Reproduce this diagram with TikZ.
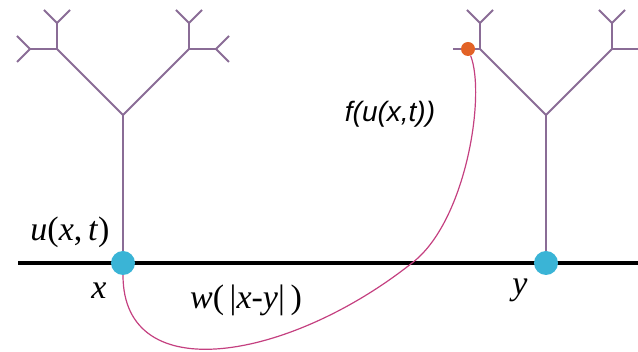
\documentclass[tikz,border=0pt]{standalone}
\usepackage{fontspec}
\setmainfont{Liberation Serif}
\newfontfamily\labelsans{Liberation Sans}
\definecolor{treecol}{RGB}{138,108,150}
\definecolor{kernelcol}{RGB}{196,64,128}
\definecolor{dotblue}{RGB}{58,180,214}
\definecolor{dotorange}{RGB}{226,98,38}
\newcommand{\vi}[1]{\textit{#1}}

\begin{document}
\begin{tikzpicture}[x=1pt, y=-1pt,
    branch/.style={draw=treecol, line width=1.8pt},
    kernel/.style={draw=kernelcol, line width=1.2pt},
    site/.style={circle, fill=dotblue, inner sep=0pt, minimum size=24pt},
    source/.style={circle, fill=dotorange, inner sep=0pt, minimum size=14pt},
    lbl/.style={inner sep=0pt, font=\fontsize{34}{40}\selectfont}]
    \useasboundingbox (0,0) rectangle (638,352);
    \clip (0,0) rectangle (638,352);
    % the two trees
    \foreach \fx in {123,546} {
        \draw[branch] (\fx,263) -- (\fx,115);
        \draw[branch] (\fx-66,49) -- (\fx,115) -- (\fx+66,49);
        \draw[branch] (\fx-66,49) -- ++(-27,0);
        \draw[branch] (\fx+66,49) -- ++(27,0) -- ++(13,-13);
        \draw[branch] (\fx+93,49) -- ++(13,13);
        \draw[branch] (\fx-66,49) -- ++(0,-26) -- ++(-13,-13);
        \draw[branch] (\fx-66,23) -- ++(13,-13);
        \draw[branch] (\fx+66,49) -- ++(0,-26) -- ++(-13,-13);
        \draw[branch] (\fx+66,23) -- ++(13,-13);
    }
    \draw[branch] (30,49) -- ++(-13,-13);
    \draw[branch] (30,49) -- ++(-13,13);
    % the line
    \draw[line width=3.2pt] (18,263) -- (638,263);
    \coordinate (cross) at (412,263);
    \node[site] (ux) at (123,263) {};
    \node[site] (uy) at (546,263) {};
    \node[source] (fu) at (468,49) {};
    \draw[kernel] (ux) .. controls (123,390) and (290,360) .. (cross)
        .. controls (466,222) and (486,95) .. (fu);
    % labels
    \node[lbl] (lu) at (70,232) {\vi{u}(\vi{x},\,\vi{t})};
    \node[lbl] (lx) at (99,291) {\vi{x}};
    \node[lbl] (lw) at (246,300) {\vi{w}(\,|\vi{x}-\vi{y}|\,)};
    \node[lbl] (ly) at (520,290) {\vi{y}};
    \node[lbl, font=\fontsize{28}{34}\selectfont\labelsans\itshape] (lf) at (390,114) {f(u(x,t))};
\end{tikzpicture}
\end{document}
